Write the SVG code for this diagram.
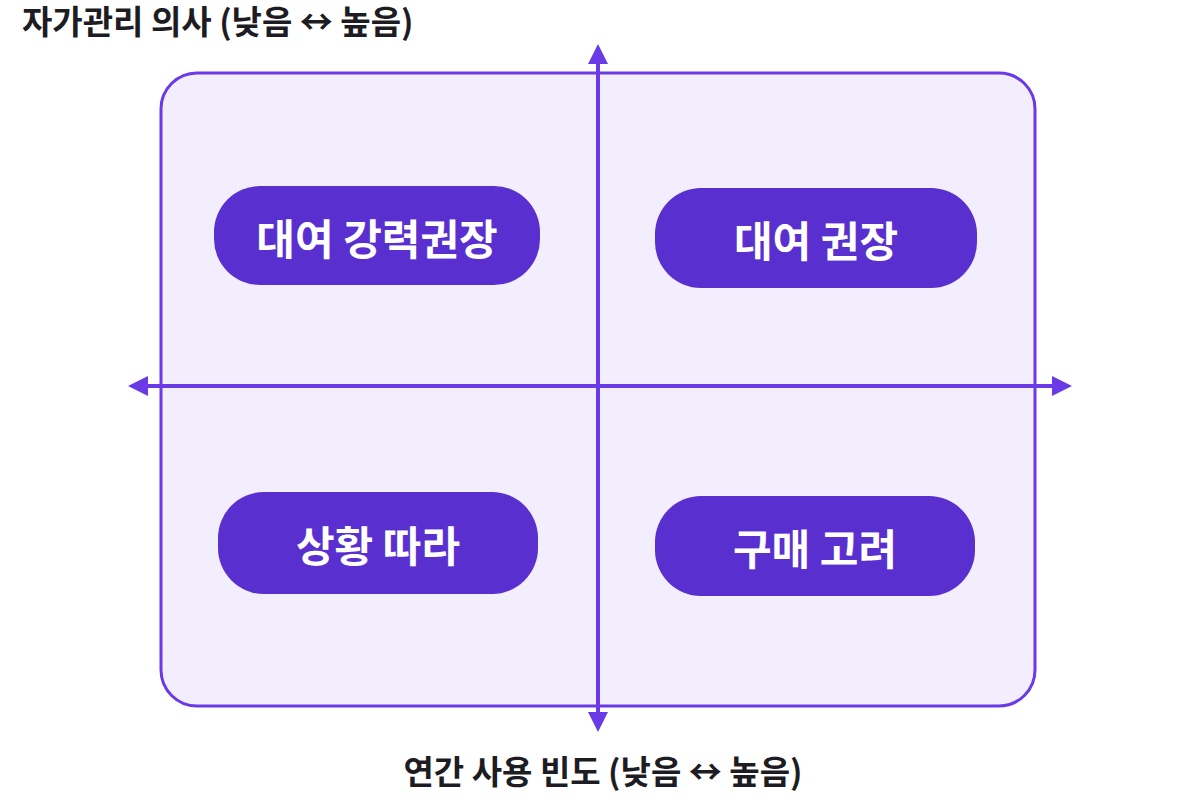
<svg xmlns="http://www.w3.org/2000/svg" width="1200" height="800" viewBox="0 0 1200 800">
<style>
.pill{fill:#5a2fcf}
.pt{fill:#fff;font-family:"Noto Sans CJK KR",sans-serif;font-weight:700;font-size:42px;text-anchor:middle;dominant-baseline:central}
.ttl{fill:#1c1c22;font-family:"Noto Sans CJK KR",sans-serif;font-weight:700;font-size:33px}
.ax{stroke:#6a3ae6;stroke-width:4;fill:none}
</style>
<defs><marker id="a" viewBox="0 0 10 10" refX="6" refY="5" markerWidth="5" markerHeight="5" orient="auto-start-reverse"><path d="M0,0L10,5L0,10z" fill="#6a3ae6"/></marker></defs>
<rect x="161" y="73" width="874" height="633" rx="36" fill="#f3eefd" stroke="#6a3ae6" stroke-width="3"/>
<g id="connectors">
<line class="ax" x1="598" y1="52" x2="598" y2="724" marker-start="url(#a)" marker-end="url(#a)"/>
<line class="ax" x1="136" y1="386" x2="1064" y2="386" marker-start="url(#a)" marker-end="url(#a)"/>
</g>
<g id="n1"><rect class="pill" x="214" y="186" width="326" height="99" rx="46"/><text class="pt" x="377" y="236">대여 강력권장</text></g>
<g id="n2"><rect class="pill" x="655" y="188" width="322" height="100" rx="46"/><text class="pt" x="816" y="238">대여 권장</text></g>
<g id="n3"><rect class="pill" x="218" y="492" width="320" height="102" rx="46"/><text class="pt" x="378" y="543">상황 따라</text></g>
<g id="n4"><rect class="pill" x="655" y="496" width="320" height="100" rx="46"/><text class="pt" x="815" y="546">구매 고려</text></g>
<text class="ttl" x="22" y="34">자가관리 의사 (낮음 ↔ 높음)</text>
<text class="ttl" x="603" y="784" text-anchor="middle">연간 사용 빈도 (낮음 ↔ 높음)</text>
</svg>
